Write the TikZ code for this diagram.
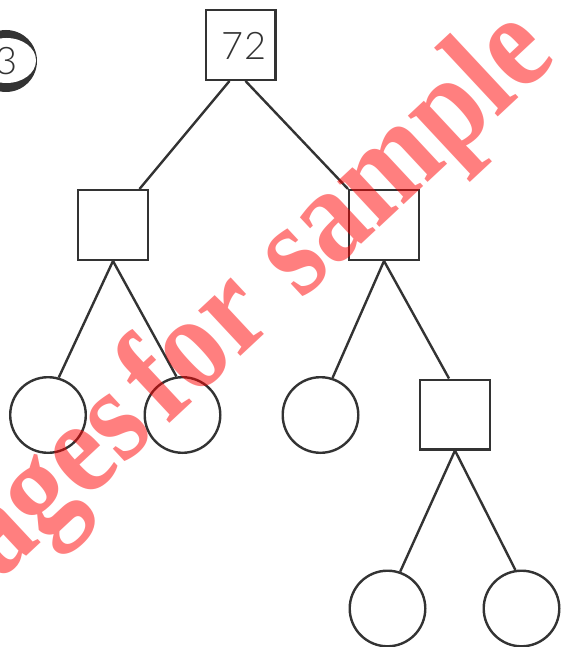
\documentclass[tikz,border=0pt]{standalone}
\usepackage{fontspec}
\newfontfamily\numfont{Lato Light}
\newfontfamily\wmfont{Liberation Serif}
\usetikzlibrary{calc}
\definecolor{ink}{HTML}{333333}
\begin{document}
\begin{tikzpicture}[x=1pt,y=-1pt,
  sq/.style={draw=ink, line width=2.4pt, fill=white, minimum size=69.6pt, inner sep=0pt},
  leaf/.style={circle, draw=ink, line width=2.4pt, fill=white, minimum size=75.6pt, inner sep=0pt},
  edge/.style={draw=ink, line width=2.4pt},
  num/.style={font=\numfont\fontsize{38}{40}\selectfont, text=ink, inner sep=0pt},
  wm/.style={font=\wmfont\bfseries\fontsize{135}{135}\selectfont, text=red, text opacity=0.5, rotate=43, xscale=0.87, inner sep=0pt}]
\useasboundingbox (0,0) rectangle (561,647);
% badge
\fill[ink] (6,61) circle (31);
\fill[white] (6.5,60.5) ellipse (29.5 and 22.5);
\node[num] (n3) at (7,61.5) {3};
% tree nodes
\node[sq] (t) at (240.5,45) {};
\node[num] (n72) at (244,45.5) {72};
\node[sq] (L) at (113,225) {};
\node[sq] (R) at (384,225) {};
\node[sq] (B4) at (455,414.5) {};
\node[leaf] (c1) at (48,415) {};
\node[leaf] (c2) at (182.5,415) {};
\node[leaf] (c3) at (320.5,415) {};
\node[leaf] (c5) at (387.5,608.5) {};
\node[leaf] (c6) at (521.5,608.5) {};
% connectors
\draw[edge] ($(t.south)+(-11,0)$) -- ($(L.north east)+(-9.5,0)$);
\draw[edge] ($(t.south)+(5,0)$) -- (R.north west);
\draw[edge] (L.south) -- (c1.74);
\draw[edge] (L.south) -- (c2.99);
\draw[edge] (R.south) -- (c3.72.5);
\draw[edge] (R.south) -- ($(B4.north)+(-6,0)$);
\draw[edge] (B4.south) -- (c5.71);
\draw[edge] (B4.south) -- (c6.99);
% watermark
\node[wm, anchor=base east] (w) at (559,60) {pages\hspace{0.12em}for\hspace{0.28em}sample};
\end{tikzpicture}
\end{document}
